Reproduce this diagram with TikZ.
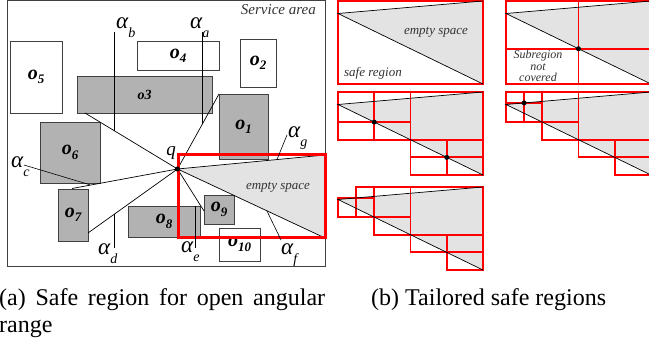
\documentclass[tikz,border=0pt]{standalone}
\usepackage{fontspec}
\setmainfont{Liberation Serif}
\usetikzlibrary{positioning, calc}

\newcommand{\obsl}[1]{o\raisebox{-0.22em}{\fontsize{13}{13}\selectfont #1}}
\newcommand{\angl}[1]{α\raisebox{-0.38em}{\fontsize{14}{14}\selectfont #1}}

\begin{document}
\begin{tikzpicture}[
  x=1pt, y=-1pt,
  free/.style={draw=black!75, fill=white, line width=0.8pt, inner sep=0pt, outer sep=0pt,
               font=\fontsize{20}{20}\selectfont\bfseries\itshape},
  busy/.style={free, fill=black!30},
  area/.style={draw=black!75, line width=1pt, inner sep=0pt, outer sep=0pt},
  ray/.style={black, line width=0.7pt},
  hint/.style={black, line width=0.6pt},
  alab/.style={anchor=base west, inner sep=0pt, font=\fontsize{23}{23}\selectfont\itshape},
  note/.style={inner sep=0pt, font=\fontsize{13}{13}\selectfont\itshape, text=black!80},
  dot/.style={circle, fill=black, inner sep=0pt, minimum size=5pt},
  wedge/.style={fill=black!11},
  safe/.style={draw=red, line width=3pt, inner sep=0pt, outer sep=0pt},
  cell/.style={draw=red, line width=1.8pt},
  captxt/.style={inner sep=0pt, font=\fontsize{24}{27}\selectfont},
]
\useasboundingbox (0,0) rectangle (649,339);
\clip (0,0) rectangle (649,339);

% ---------- (a) open angular range ----------
\node[area, minimum width=318, minimum height=266] (sa) at (166,134) {};
\node[note, anchor=base east, font=\fontsize{15}{15}\selectfont\itshape] (salab) at (316,15) {Service area};

% safe region and the empty wedge
\node[safe, minimum width=147, minimum height=83] (sr) at (251.5,196.5) {};
\node[dot] (q) at (177.5,169) {};
\fill[wedge] (q.center) -- (sr.north east) -- (sr.south east) -- cycle;
\node[note] (es) at (278,187) {empty space};

% end points of the rays on the obstacles
\coordinate (eb) at (85,113);
\coordinate (ec) at (72,188.5);
\coordinate (ed) at (88,233);
\coordinate (ee) at (204,211);

% obstacles
\node[free, minimum width=52, minimum height=72] (o5) at (36,77) {\obsl{5}};
\node[free, minimum width=82, minimum height=29] (o4) at (178,55.5) {\obsl{4}};
\node[free, minimum width=36, minimum height=48] (o2) at (258,63) {\obsl{2}};
\node[busy, minimum width=135, minimum height=37, font=\fontsize{14}{14}\selectfont\bfseries\itshape] (o3) at (144.5,94.5) {o3};
\node[busy, minimum width=49, minimum height=65] (o1) at (243.5,126.5) {\obsl{1}};
\node[busy, minimum width=60, minimum height=61] (o6) at (70,152.5) {\obsl{6}};
\node[busy, minimum width=30, minimum height=52] (o7) at (73,215) {\obsl{7}};
\node[busy, minimum width=72, minimum height=31] (o8) at (164,221.5) {\obsl{8}};
\node[busy, minimum width=30, minimum height=29] (o9) at (219,209.5) {\obsl{9}};
\node[free, minimum width=41, minimum height=33] (o10) at (239.5,244.5) {\obsl{10}};

% rays from q
\draw[ray] (q.center) -- (o1.north west);
\draw[ray] (q.center) -- (eb);
\draw[ray] (q.center) -- (ec);
\draw[ray] (q.center) -- (ed);
\draw[ray] (q.center) -- (ee);
\draw[ray] (sr.north east) -- (q.center) -- (sr.south east);
\node[safe, minimum width=147, minimum height=83] at (sr) {};
\node[dot] at (q) {};
\node[inner sep=0pt, font=\fontsize{19}{19}\selectfont\itshape] (qlab) at (171,153) {q};

% angle labels and their pointers
\node[alab] (lb) at (116,29) {\angl{b}};
\node[alab] (la) at (190,29) {\angl{a}};
\node[alab] (lg) at (288,138) {\angl{g}};
\node[alab] (lc) at (11,168) {\angl{c}};
\node[alab] (ld) at (98,255) {\angl{d}};
\node[alab] (le) at (181,253) {\angl{e}};
\node[alab] (lf) at (281,255) {\angl{f}};

\coordinate (tb) at (114,32);   \coordinate (hb) at (114,131);
\coordinate (ta) at (202,32);   \coordinate (ha) at (202,123.6);
\coordinate (tg) at (287,135);  \coordinate (hg) at (277,159.5);
\coordinate (tc) at (24,165);   \coordinate (hc) at (90,184.8);
\coordinate (td) at (114,248);  \coordinate (hd) at (114,214);
\coordinate (te) at (195,248);  \coordinate (he) at (195,206);
\coordinate (tf) at (281,240);  \coordinate (hf) at (267,211);
\draw[hint] (tb) -- (hb);
\draw[hint] (ta) -- (ha);
\draw[hint] (tg) -- (hg);
\draw[hint] (tc) -- (hc);
\draw[hint] (td) -- (hd);
\draw[hint] (te) -- (he);
\draw[hint] (tf) -- (hf);

% ---------- (b) tailored safe regions ----------
% whole safe region
\begin{scope}[shift={(338,1)}]
  \fill[wedge] (0,12.5) -- (145,0) -- (145,83) -- cycle;
  \draw[cell] (0,0) rectangle (145,83);
  \draw[ray] (145,0) -- (0,12.5) -- (145,83);
  \node[note] (es1) at (98,31) {empty space};
  \node[note] (sr1) at (35,72) {safe region};
\end{scope}

% first split
\begin{scope}[shift={(506,1)}]
  \fill[wedge] (0,12.5) -- (145,0) -- (145,83) -- cycle;
  \draw[cell] (0,0) rectangle (72.5,47.75);
  \draw[cell] (72.5,0) rectangle (145,47.75);
  \draw[cell] (0,47.75) rectangle (72.5,83);
  \draw[cell] (72.5,47.75) rectangle (145,83);
  \draw[ray] (145,0) -- (0,12.5) -- (145,83);
  \node[dot] at (72.5,47.75) {};
  \node[note, align=center, font=\fontsize{12}{11.5}\selectfont\itshape] (nc) at (32,65) {Subregion\\not\\covered};
\end{scope}

% second split
\begin{scope}[shift={(338,92)}]
  \fill[wedge] (0,12.5) -- (145,0) -- (145,83) -- cycle;
  \draw[cell] (0,0) rectangle (36.25,30.1);
  \draw[cell] (36.25,0) rectangle (72.5,30.1);
  \draw[cell] (0,30.1) rectangle (36.25,47.75);
  \draw[cell] (36.25,30.1) rectangle (72.5,47.75);
  \draw[cell] (72.5,0) rectangle (145,47.75);
  \draw[cell] (72.5,47.75) rectangle (108.75,65.4);
  \draw[cell] (108.75,47.75) rectangle (145,65.4);
  \draw[cell] (72.5,65.4) rectangle (108.75,83);
  \draw[cell] (108.75,65.4) rectangle (145,83);
  \draw[ray] (145,0) -- (0,12.5) -- (145,83);
  \node[dot] at (36.25,30.1) {};
  \node[dot] at (108.75,65.4) {};
\end{scope}

% third split
\begin{scope}[shift={(506,92)}]
  \fill[wedge] (0,12.5) -- (145,0) -- (145,83) -- cycle;
  \draw[cell] (0,0) rectangle (18.1,10.9);
  \draw[cell] (18.1,0) rectangle (36.25,10.9);
  \draw[cell] (0,10.9) rectangle (18.1,30.1);
  \draw[cell] (18.1,10.9) rectangle (36.25,30.1);
  \draw[cell] (36.25,0) rectangle (72.5,30.1);
  \draw[cell] (36.25,30.1) rectangle (72.5,47.75);
  \draw[cell] (72.5,0) rectangle (145,47.75);
  \draw[cell] (72.5,47.75) rectangle (108.75,65.4);
  \draw[cell] (108.75,47.75) rectangle (145,65.4);
  \draw[cell] (108.75,65.4) rectangle (145,83);
  \draw[ray] (145,0) -- (0,12.5) -- (145,83);
  \node[dot] at (18.1,10.9) {};
\end{scope}

% final cover
\begin{scope}[shift={(338,187)}]
  \fill[wedge] (0,12.5) -- (145,0) -- (145,83) -- cycle;
  \draw[cell] (18.1,0) rectangle (36.25,10.9);
  \draw[cell] (0,10.9) rectangle (18.1,30.1);
  \draw[cell] (18.1,10.9) rectangle (36.25,30.1);
  \draw[cell] (36.25,0) rectangle (72.5,30.1);
  \draw[cell] (36.25,30.1) rectangle (72.5,47.75);
  \draw[cell] (72.5,0) rectangle (145,47.75);
  \draw[cell] (72.5,47.75) rectangle (108.75,65.4);
  \draw[cell] (108.75,47.75) rectangle (145,65.4);
  \draw[cell] (108.75,65.4) rectangle (145,83);
  \draw[ray] (145,0) -- (0,12.5) -- (145,83);
\end{scope}

% captions
\node[captxt, anchor=base west] (capa) at (-1,306) {\makebox[326pt][s]{(a) Safe region for open angular}};
\node[captxt, anchor=base west] (capa2) at (-1,333) {range};
\node[captxt, anchor=base west] (capb) at (371,306) {(b) Tailored safe regions};

\end{tikzpicture}
\end{document}
